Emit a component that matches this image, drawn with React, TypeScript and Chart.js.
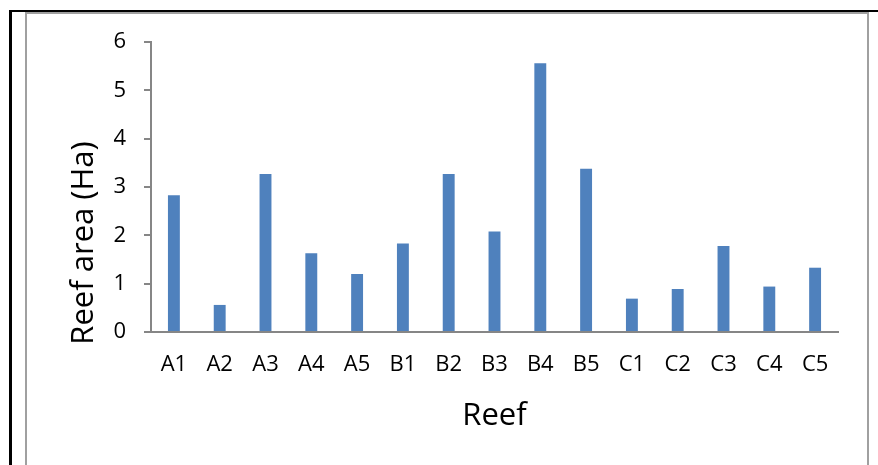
import React, { useEffect, useRef } from "react";
import { Chart, registerables } from "chart.js";

Chart.register(...registerables);

// Reef sites and their area in hectares
const reefs = ["A1", "A2", "A3", "A4", "A5", "B1", "B2", "B3", "B4", "B5", "C1", "C2", "C3", "C4", "C5"];
const reefArea = [2.83, 0.56, 3.27, 1.63, 1.2, 1.83, 3.27, 2.08, 5.56, 3.38, 0.69, 0.89, 1.78, 0.94, 1.33];

// Value axis range
const yMin = 0;
const yMax = 6;
const yStep = 1;

const xTitle = "Reef";
const yTitle = "Reef area (Ha)";

const FONT = "'Open Sans', 'Noto Sans', sans-serif";
const AXIS_GRAY = "#868686";

// Rotated value-axis title drawn beside the tick labels
const yTitlePlugin = {
  id: "yTitlePlugin",
  afterDraw(chart: any) {
    const { ctx } = chart;
    ctx.save();
    ctx.font = `31px ${FONT}`;
    ctx.fillStyle = "#000";
    ctx.textAlign = "center";
    ctx.textBaseline = "alphabetic";
    ctx.translate(93, 243);
    ctx.rotate(-Math.PI / 2);
    ctx.fillText(yTitle, 0, 0);
    ctx.restore();
  },
};

export default function App() {
  const canvasRef = useRef<HTMLCanvasElement | null>(null);

  useEffect(() => {
    if (!canvasRef.current) return;
    const chart = new Chart(canvasRef.current, {
      type: "bar",
      data: {
        labels: reefs,
        datasets: [
          {
            data: reefArea,
            backgroundColor: "#4F81BD",
            borderWidth: 0,
            barPercentage: 0.26,
            categoryPercentage: 1,
          },
        ],
      },
      options: {
        responsive: false,
        animation: false,
        layout: { padding: { left: 0, right: 40, top: 42, bottom: 0 } },
        plugins: {
          legend: { display: false },
          tooltip: { enabled: false },
        },
        scales: {
          x: {
            grid: { display: false, drawTicks: false },
            border: { display: true, color: AXIS_GRAY, width: 2 },
            ticks: {
              color: "#000",
              font: { family: FONT, size: 22 },
              padding: 20,
              maxRotation: 0,
              autoSkip: false,
            },
            title: {
              display: true,
              text: xTitle,
              color: "#000",
              font: { family: FONT, size: 31 },
              padding: { top: 0, bottom: 30 },
            },
            afterFit(scale: any) {
              scale.height = 133;
            },
          },
          y: {
            min: yMin,
            max: yMax,
            ticks: {
              stepSize: yStep,
              color: "#000",
              font: { family: FONT, size: 22 },
              padding: 18,
            },
            grid: {
              drawOnChartArea: false,
              drawTicks: true,
              tickLength: 7,
              tickColor: AXIS_GRAY,
              lineWidth: 2,
            },
            border: { display: true, color: AXIS_GRAY, width: 2 },
            afterFit(scale: any) {
              scale.width = 151;
            },
          },
        },
      },
      plugins: [yTitlePlugin],
    });
    return () => chart.destroy();
  }, []);

  return (
    <div
      style={{
        position: "fixed",
        left: 0,
        top: 0,
        width: 878,
        height: 465,
        overflow: "hidden",
        background: "#fff",
      }}
    >
      <div
        style={{
          position: "absolute",
          left: 9,
          top: 10,
          width: 900,
          height: 500,
          borderTop: "2px solid #000",
          borderLeft: "3px solid #000",
        }}
      />
      <div
        style={{
          position: "absolute",
          left: 25,
          top: 12,
          width: 840,
          height: 500,
          border: "2px solid #a0a0a0",
        }}
      />
      <canvas
        ref={canvasRef}
        width={878}
        height={465}
        style={{ position: "absolute", left: 0, top: 0 }}
      />
    </div>
  );
}
